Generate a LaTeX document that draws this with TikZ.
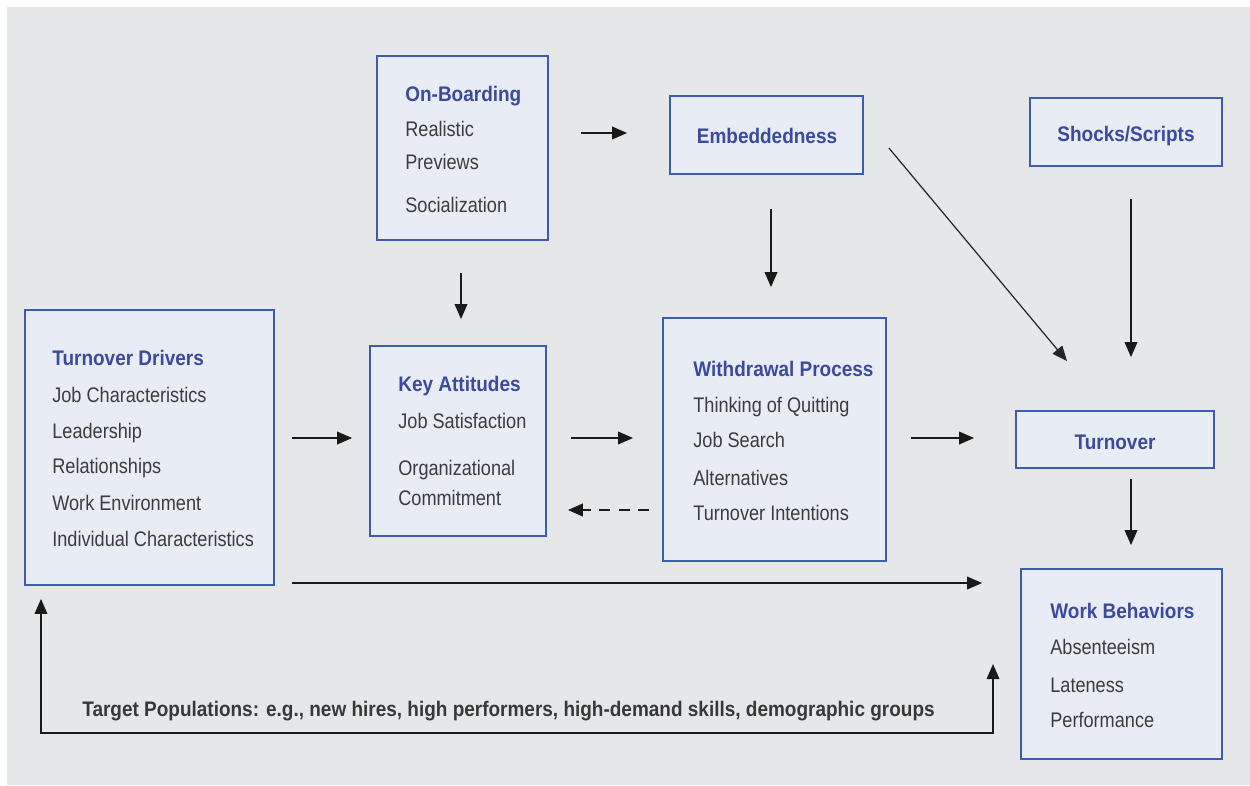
\documentclass[tikz,border=0pt]{standalone}
\usepackage{fontspec}
\setmainfont{Liberation Sans}[FakeStretch=0.86, BoldFeatures={FakeStretch=0.90}]
\usetikzlibrary{arrows.meta,fit}

\definecolor{bg}{HTML}{E6E7E9}
\definecolor{boxfill}{HTML}{E8ECF5}
\definecolor{boxline}{HTML}{3D5BB0}
\definecolor{headblue}{HTML}{3A4A9E}
\definecolor{bodygray}{HTML}{3C3C3C}
\definecolor{captiongray}{HTML}{383838}

\tikzset{
  box/.style={draw=boxline, fill=boxfill, line width=1pt, inner sep=0pt},
  head/.style={anchor=base west, inner sep=0pt, text=headblue,
    font=\fontsize{12}{14}\selectfont\bfseries},
  headc/.style={anchor=base, inner sep=0pt, text=headblue,
    font=\fontsize{12}{14}\selectfont\bfseries},
  item/.style={anchor=base west, inner sep=0pt, text=bodygray,
    font=\fontsize{12}{14}\selectfont},
  tip/.style={-{Triangle[length=0.3cm,width=0.25cm]}},
  arr/.style={draw=black!90, line width=1.1pt, tip},
  thinarr/.style={draw=black!85, line width=0.7pt, tip},
  dasharr/.style={arr, line width=1.3pt, dash pattern=on 0.22cm off 0.17cm},
}

\begin{document}
\begin{tikzpicture}[x=0.02cm,y=-0.02cm]
  \useasboundingbox (0,0) rectangle (1250,785);
  \fill[bg] (7,7) rectangle (1250,785);

  % boxes
  \node[box, fit={(377,56) (548,240)}]   (onb) {};
  \node[box, fit={(670,96) (863,174)}]   (emb) {};
  \node[box, fit={(1030,98) (1222,166)}] (shk) {};
  \node[box, fit={(25,310) (274,585)}]   (drv) {};
  \node[box, fit={(370,346) (546,536)}]  (ka)  {};
  \node[box, fit={(663,318) (886,561)}]  (wd)  {};
  \node[box, fit={(1016,411) (1214,468)}] (tov) {};
  \node[box, fit={(1021,569) (1222,759)}] (wb)  {};

  % box texts
  \node[head] (onbT) at (405,101) {On-Boarding};
  \node[item] (onb1) at (405,136) {Realistic};
  \node[item] (onb2) at (405,169) {Previews};
  \node[item] (onb3) at (405,212) {Socialization};

  \node[headc] (embT) at (767,143) {Embeddedness};
  \node[headc] (shkT) at (1126,141) {Shocks/Scripts};
  \node[headc] (tovT) at (1115,449) {Turnover};

  \node[head] (drvT) at (52,365) {Turnover Drivers};
  \node[item] (drv1) at (52,402) {Job Characteristics};
  \node[item] (drv2) at (52,438) {Leadership};
  \node[item] (drv3) at (52,473) {Relationships};
  \node[item] (drv4) at (52,510) {Work Environment};
  \node[item] (drv5) at (52,546) {Individual Characteristics};

  \node[head] (kaT) at (398,391) {Key Attitudes};
  \node[item] (ka1) at (398,428) {Job Satisfaction};
  \node[item] (ka2) at (398,475) {Organizational};
  \node[item] (ka3) at (398,505) {Commitment};

  \node[head] (wdT) at (693,376) {Withdrawal Process};
  \node[item] (wd1) at (693,412) {Thinking of Quitting};
  \node[item] (wd2) at (693,447) {Job Search};
  \node[item] (wd3) at (693,485) {Alternatives};
  \node[item] (wd4) at (693,520) {Turnover Intentions};

  \node[head] (wbT) at (1050,618) {Work Behaviors};
  \node[item] (wb1) at (1050,654) {Absenteeism};
  \node[item] (wb2) at (1050,692) {Lateness};
  \node[item] (wb3) at (1050,727) {Performance};

  \node[anchor=base west, inner sep=0pt, text=captiongray,
        font=\fontsize{12}{14}\selectfont\bfseries] (cap) at (82,716)
    {Target Populations: e.g., new hires, high performers, high-demand skills, demographic groups};

  % rows and columns used by the connectors
  \coordinate (rowA) at (0,133);
  \coordinate (rowB) at (0,438);
  \coordinate (rowC) at (0,510);
  \coordinate (rowD) at (0,583);
  \coordinate (colA) at (461,0);
  \coordinate (colB) at (771,0);
  \coordinate (colC) at (1131,0);
  \coordinate (fbL) at (41,733);
  \coordinate (fbR) at (993,733);

  % connectors
  \draw[arr, shorten <=0.64cm, shorten >=0.84cm] (onb.east |- rowA) -- (emb.west |- rowA);
  \draw[arr, shorten <=0.64cm, shorten >=0.52cm] (onb.south -| colA) -- (ka.north -| colA);
  \draw[arr, shorten <=0.68cm, shorten >=0.60cm] (emb.south -| colB) -- (wd.north -| colB);
  \draw[thinarr] ([shift={(25,13)}]emb.east) -- ([shift={(-48,-49)}]tov.north);
  \draw[arr, shorten <=0.64cm, shorten >=1.06cm] (shk.south -| colC) -- (tov.north -| colC);
  \draw[arr, shorten <=0.34cm, shorten >=0.34cm] (drv.east |- rowB) -- (ka.west |- rowB);
  \draw[arr, shorten <=0.48cm, shorten >=0.58cm] (ka.east |- rowB) -- (wd.west |- rowB);
  \draw[arr, shorten <=0.48cm, shorten >=0.82cm] (wd.east |- rowB) -- (tov.west |- rowB);
  \draw[dasharr, shorten <=0.26cm, shorten >=0.42cm] (wd.west |- rowC) -- (ka.east |- rowC);
  \draw[arr, shorten <=0.20cm, shorten >=0.46cm] (tov.south -| colC) -- (wb.north -| colC);
  \draw[arr, shorten <=0.34cm, shorten >=0.76cm] (drv.east |- rowD) -- (wb.west |- rowD);
  \draw[arr, {Triangle[length=0.3cm,width=0.25cm]}-{Triangle[length=0.3cm,width=0.25cm]},
        shorten <=0.26cm] (fbL |- drv.south) -- (fbL) -- (fbR) -- (fbR |- wb.west);
\end{tikzpicture}
\end{document}
